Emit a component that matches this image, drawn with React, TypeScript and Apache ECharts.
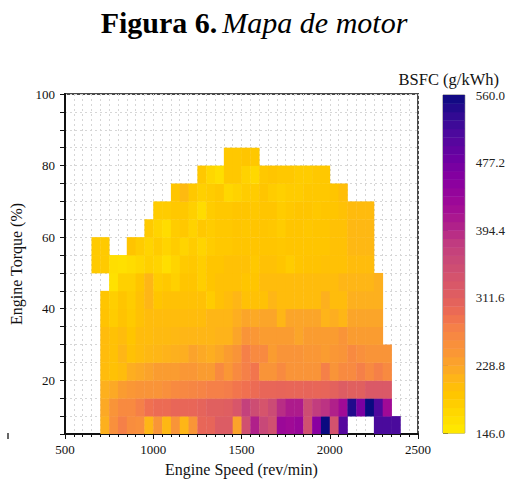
import React, { useEffect, useRef } from "react";
import * as echarts from "echarts";

// ---- Data (BSFC, g/kWh) ----
// Torque rows (lower edge, %), each 5 % tall; speed cells 50 rev/min wide.
const torqueRows = [5, 10, 15, 20, 25, 30, 35, 40, 45, 50, 55, 60, 65, 70, 75, 80];
const rowStartSpeed = [700, 700, 700, 700, 700, 700, 700, 700, 750, 650, 650, 950, 1000, 1100, 1250, 1400];

const bsfc05 = [218, 255, 275, 258, 255, 212, 248, 210, 250, 212, 248, 300, 302, 320, 320, 232, 345, 400, 360, 345, 432, 425, 435, 345, 455, 560, 340, 505, null, null, null, 515, 515, 515];
const bsfc10 = [225, 250, 262, 262, 275, 290, 295, 295, 300, 300, 300, 305, 312, 312, 315, 330, 370, 350, 335, 355, 390, 405, 405, 350, 375, 385, 400, 425, 545, 470, 560, 510, 425];
const bsfc15 = [218, 225, 238, 245, 250, 250, 250, 255, 262, 265, 268, 270, 275, 275, 278, 285, 290, 295, 300, 300, 302, 300, 300, 302, 300, 302, 308, 318, 312, 312, 325, 325, 325];
const bsfc20 = [205, 200, 205, 220, 225, 232, 238, 238, 238, 245, 245, 238, 238, 262, 245, 262, 275, 285, 250, 250, 262, 250, 250, 250, 250, 275, 250, 262, 262, 275, 262, 275, 262];
const bsfc25 = [205, 200, 212, 200, 205, 210, 212, 215, 218, 220, 232, 225, 220, 228, 238, 250, 275, 262, 262, 238, 250, 250, 250, 245, 245, 238, 245, 250, 262, 255, 250, 250, 250];
const bsfc30 = [205, 200, 205, 196, 205, 205, 208, 208, 210, 212, 212, 212, 212, 215, 215, 230, 250, 245, 238, 238, 238, 238, 230, 238, 238, 238, 238, 250, 238, 238, 238, 238];
const bsfc35 = [198, 185, 198, 188, 200, 205, 205, 205, 205, 205, 205, 205, 212, 212, 212, 220, 230, 225, 230, 230, 212, 230, 230, 230, 230, 214, 220, 212, 230, 230, 230, 230];
const bsfc40 = [196, 182, 196, 185, 200, 212, 196, 200, 200, 200, 200, 200, 185, 200, 205, 212, 200, 200, 200, 212, 205, 205, 205, 205, 205, 218, 205, 205, 218, 218, 218, 218];
const bsfc45 = [158, 180, 180, 196, 212, 185, 190, 180, 196, 196, 182, 196, 200, 200, 200, 196, 196, 205, 205, 205, 205, 205, 205, 205, 205, 205, 212, 212, 212, 212, 218];
const bsfc50 = [188, 188, 162, 160, 165, 172, 180, 175, 162, 175, 188, 190, 182, 196, 196, 200, 200, 200, 190, 200, 200, 196, 185, 196, 198, 198, 200, 200, 200, 205, 205, 205];
const bsfc55 = [188, 188, null, null, 197, 185, 175, 185, 175, 185, 175, 185, 175, 185, 190, 190, 196, 196, 196, 196, 196, 192, 196, 196, 196, 196, 196, 200, 200, 210, 210, 210];
const bsfc60 = [188, 175, 165, 185, 190, 178, 190, 185, 190, 190, 196, 192, 196, 196, 192, 185, 196, 196, 192, 196, 196, 200, 200, 210, 210, 210];
const bsfc65 = [185, 185, 190, 190, 180, 165, 185, 190, 190, 196, 196, 190, 196, 196, 185, 190, 196, 196, 190, 196, 196, 200, 206, 206, 206];
const bsfc70 = [196, 208, 190, 180, 185, 190, 172, 178, 185, 185, 196, 185, 180, 185, 185, 190, 190, 190, 196, 203];
const bsfc75 = [190, 172, 162, 190, 190, 178, 170, 190, 196, 190, 190, 185, 185, 190, 190];
const bsfc80 = [190, 190, 196, 190];

const rowValues = [bsfc05, bsfc10, bsfc15, bsfc20, bsfc25, bsfc30, bsfc35, bsfc40, bsfc45, bsfc50, bsfc55, bsfc60, bsfc65, bsfc70, bsfc75, bsfc80];

const speedStep = 50;
const torqueStep = 5;
const bsfcMin = 146;
const bsfcMax = 560;
const colorbarLabels = ["146.0", "228.8", "311.6", "394.4", "477.2", "560.0"];
const colorbarBands = 40;

// ---- Colour map (style) ----
const colorStops: [number, string][] = [
  [146, "#ffea00"], [160, "#ffe000"], [170, "#ffd800"], [180, "#ffd000"],
  [185, "#ffcc00"], [190, "#ffc800"], [197, "#ffc400"], [205, "#ffbc0c"],
  [212, "#feb616"], [220, "#fdae20"], [229, "#fba628"], [240, "#fa9a32"],
  [250, "#f99438"], [262, "#f88a40"], [275, "#f58048"], [290, "#f07050"],
  [300, "#e86658"], [312, "#e0605f"], [330, "#d8566a"], [345, "#d05070"],
  [360, "#c84878"], [380, "#c03a80"], [400, "#b0208a"], [425, "#a00a96"],
  [455, "#8a00a0"], [485, "#6a00a2"], [515, "#4a0a9c"], [540, "#2a0a90"],
  [560, "#0a0a80"],
];

function hexToRgb(h: string) {
  return [parseInt(h.slice(1, 3), 16), parseInt(h.slice(3, 5), 16), parseInt(h.slice(5, 7), 16)];
}
function colorAt(v: number) {
  for (let i = 0; i < colorStops.length - 1; i++) {
    const [v0, c0] = colorStops[i];
    const [v1, c1] = colorStops[i + 1];
    if (v <= v1) {
      const t = Math.max(0, Math.min(1, (v - v0) / (v1 - v0)));
      const a = hexToRgb(c0), b = hexToRgb(c1);
      const r = a.map((x, k) => Math.round(x + (b[k] - x) * t));
      return `rgb(${r[0]},${r[1]},${r[2]})`;
    }
  }
  return colorStops[colorStops.length - 1][1];
}
const palette = Array.from({ length: 139 }, (_, i) => colorAt(bsfcMin + (i * (bsfcMax - bsfcMin)) / 138));

const FONT = "Liberation Serif";

export default function App() {
  const ref = useRef<HTMLDivElement>(null);
  useEffect(() => {
    if (!ref.current) return;
    const chart = echarts.init(ref.current, undefined, { renderer: "svg" });

    const cells: any[] = [];
    torqueRows.forEach((t, r) => {
      rowValues[r].forEach((v, i) => {
        if (v === null || v === undefined) return;
        cells.push([rowStartSpeed[r] + i * speedStep, t, v]);
      });
    });

    const bandStep = (colorbarLabels.length - 1) / colorbarBands;
    const bands = Array.from({ length: colorbarBands }, (_, i) => [
      i * bandStep,
      (i + 1) * bandStep,
      bsfcMin + ((i + 0.5) * (bsfcMax - bsfcMin)) / colorbarBands,
    ]);

    const grid = { lineStyle: { color: "#d6d6d6", type: [2, 3] as any, width: 1 } };

    chart.setOption({
      animation: false,
      backgroundColor: "#fff",
      title: [
        {
          text: "{b|Figura 6.} {i|Mapa de motor}",
          left: "center",
          top: 2,
          textStyle: {
            rich: {
              b: { fontFamily: FONT, fontWeight: "bold", fontSize: 30, color: "#000" },
              i: { fontFamily: FONT, fontWeight: "normal", fontStyle: "italic", fontSize: 30, color: "#000" },
            },
          },
        },
        {
          text: "BSFC (g/kWh)",
          right: 4,
          top: 66,
          textStyle: { fontFamily: FONT, fontWeight: "normal", fontSize: 16.5, color: "#111" },
        },
      ],
      visualMap: {
        type: "continuous",
        show: false,
        min: bsfcMin,
        max: bsfcMax,
        dimension: 2,
        seriesIndex: [0, 1],
        inRange: { color: palette },
      },
      grid: [
        { left: 65, top: 94, width: 353, height: 341, show: true, borderColor: "#4a4a4a", borderWidth: 2 },
        { left: 443, top: 95, width: 23, height: 338, show: true, borderColor: "#777", borderWidth: 1 },
      ],
      xAxis: [
        {
          type: "value",
          gridIndex: 0,
          min: 500,
          max: 2500,
          interval: 500,
          name: "Engine Speed (rev/min)",
          nameLocation: "middle",
          nameGap: 27,
          nameTextStyle: { fontFamily: FONT, fontSize: 16, color: "#111" },
          axisLine: { show: true, onZero: false, lineStyle: { color: "#111", width: 2 } },
          axisTick: { show: true, length: 5, lineStyle: { color: "#111", width: 1 } },
          minorTick: { show: true, splitNumber: 10, length: 3, lineStyle: { color: "#111", width: 1 } },
          axisLabel: { fontFamily: FONT, fontSize: 13, color: "#111", margin: 9, formatter: (v: number) => String(v) },
          splitLine: { show: true, ...grid },
          minorSplitLine: { show: true, ...grid },
        },
        {
          type: "value",
          gridIndex: 1,
          min: 0,
          max: 1,
          show: false,
        },
      ],
      yAxis: [
        {
          type: "value",
          gridIndex: 0,
          min: 5,
          max: 100,
          interval: 5,
          name: "Engine Torque (%)",
          nameLocation: "middle",
          nameGap: 40,
          nameTextStyle: { fontFamily: FONT, fontSize: 16, color: "#111" },
          axisLine: { show: true, onZero: false, lineStyle: { color: "#111", width: 2 } },
          axisTick: { show: true, length: 5, lineStyle: { color: "#111", width: 1 } },
          axisLabel: {
            fontFamily: FONT,
            fontSize: 13,
            color: "#111",
            margin: 10,
            formatter: (v: number) => (v % 20 === 0 ? String(v) : ""),
          },
          splitLine: { show: true, ...grid },
        },
        {
          type: "value",
          gridIndex: 1,
          min: 0,
          max: colorbarLabels.length - 1,
          interval: 1,
          position: "right",
          axisLine: { show: false },
          axisTick: { show: true, length: 5, lineStyle: { color: "#555", width: 1 } },
          axisLabel: {
            fontFamily: FONT,
            fontSize: 13,
            color: "#222",
            margin: 11,
            formatter: (v: number) => colorbarLabels[Math.round(v)] ?? "",
          },
          splitLine: { show: false },
        },
      ],
      series: [
        {
          type: "custom",
          xAxisIndex: 0,
          yAxisIndex: 0,
          data: cells,
          clip: true,
          renderItem: (params: any, api: any) => {
            const x = api.value(0);
            const y = api.value(1);
            const p0 = api.coord([x, y + torqueStep]);
            const p1 = api.coord([x + speedStep, y]);
            return {
              type: "rect",
              shape: { x: p0[0], y: p0[1], width: p1[0] - p0[0] + 0.4, height: p1[1] - p0[1] + 0.4 },
              style: { fill: api.visual("color"), stroke: null },
            };
          },
        },
        {
          type: "custom",
          xAxisIndex: 1,
          yAxisIndex: 1,
          data: bands,
          renderItem: (params: any, api: any) => {
            const p0 = api.coord([0, api.value(1)]);
            const p1 = api.coord([1, api.value(0)]);
            return {
              type: "rect",
              shape: { x: p0[0], y: p0[1], width: p1[0] - p0[0], height: p1[1] - p0[1] + 0.4 },
              style: { fill: api.visual("color"), stroke: null },
            };
          },
        },
      ],
      graphic: [
        {
          type: "line",
          shape: { x1: 8, y1: 433, x2: 8, y2: 439 },
          style: { stroke: "#333", lineWidth: 1.5 },
        },
      ],
    });
    return () => chart.dispose();
  }, []);
  return <div ref={ref} style={{ position: "fixed", left: 0, top: 0, width: 508, height: 482 }} />;
}
